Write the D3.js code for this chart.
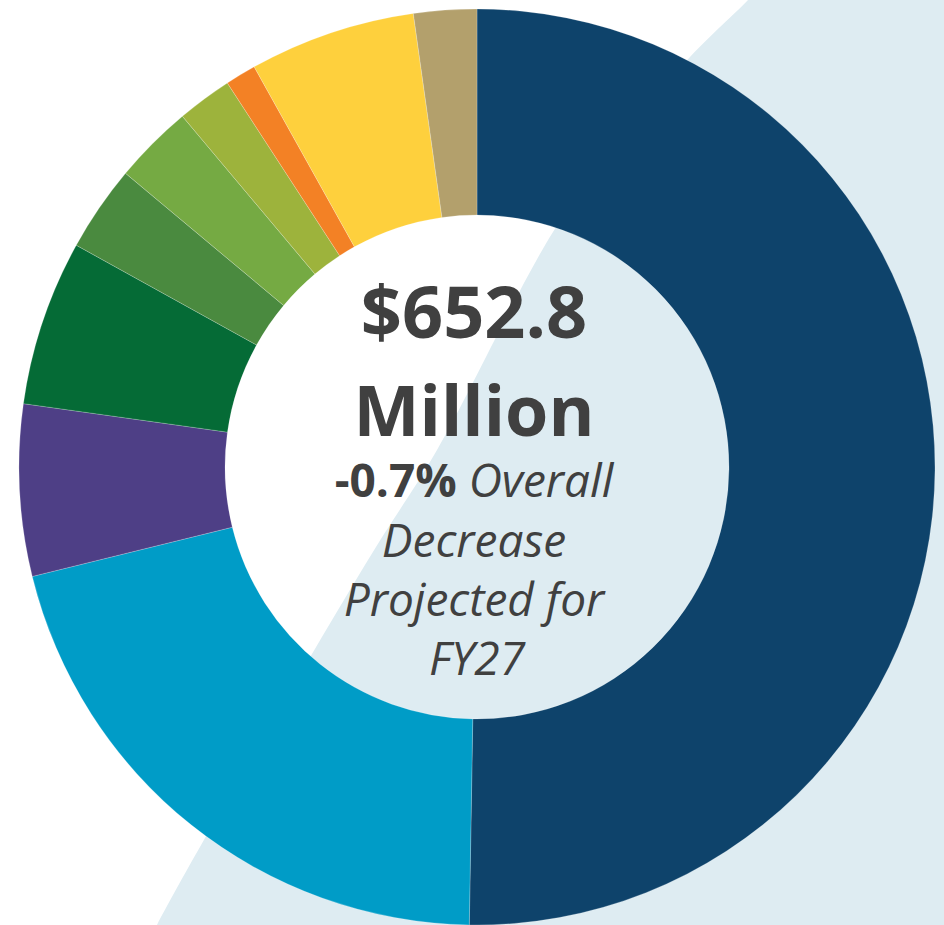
<!DOCTYPE html>
<html>
<head>
<meta charset="utf-8">
<script src="https://cdn.jsdelivr.net/npm/d3@7"></script>
<style>
  html, body { margin: 0; padding: 0; background: #ffffff; }
  svg { display: block; }
</style>
</head>
<body>
<div id="chart"></div>
<script>
// ---- Data ($ millions, clockwise from 12 o'clock) ----
const categories = [
  "Segment 1", "Segment 2", "Segment 3", "Segment 4", "Segment 5",
  "Segment 6", "Segment 7", "Segment 8", "Segment 9", "Segment 10"
];
const values = [328.2, 136.4, 39.5, 38.1, 19.8, 18.3, 12.7, 7.1, 38.3, 14.5];
const colors = [
  "#0e436b", "#009cc7", "#4e3f86", "#056b36", "#4a8a3f",
  "#75aa43", "#9db33c", "#f38125", "#fed03d", "#b3a06c"
];
const totalLabel = "$652.8";
const unitLabel = "Million";
const changeLabel = "-0.7%";
const noteLines = ["Overall", "Decrease", "Projected for", "FY27"];

// background decorative diagonal band (boundary points)
const bandEdge = [[760, -14], [748, 0], [690, 57], [620, 140], [553, 232], [437, 450], [368, 560], [205, 838], [157, 925], [150, 940]];

const W = 944, H = 925;
const cx = 477, cy = 467, outerR = 458, innerR = 252;

const svg = d3.select("#chart").append("svg")
  .attr("width", W).attr("height", H)
  .attr("viewBox", `0 0 ${W} ${H}`);

svg.append("rect").attr("width", W).attr("height", H).attr("fill", "#ffffff");

// light blue background shape
const edgeLine = d3.line().curve(d3.curveCatmullRom.alpha(0.5));
const bandPath = edgeLine(bandEdge) + ` L ${W + 20} 940 L ${W + 20} -14 Z`;
svg.append("path").attr("d", bandPath).attr("fill", "#deecf2");

const data = categories.map((c, i) => ({ name: c, value: values[i], color: colors[i] }));

const pie = d3.pie().value(d => d.value).sort(null)
  .startAngle(0).endAngle(2 * Math.PI);
const arc = d3.arc().innerRadius(innerR).outerRadius(outerR);

const g = svg.append("g").attr("transform", `translate(${cx},${cy})`);
g.selectAll("path.slice")
  .data(pie(data))
  .join("path")
  .attr("class", "slice")
  .attr("d", arc)
  .attr("fill", d => d.data.color)
  .attr("stroke", "rgba(255,255,255,0.35)")
  .attr("stroke-width", 0.6);

// Centre text
const tx = 474;
const textColor = "#404040";
const font = "'Open Sans', 'Noto Sans', sans-serif";

svg.append("text")
  .attr("x", tx).attr("y", 338)
  .attr("text-anchor", "middle")
  .attr("font-family", font).attr("font-weight", 700)
  .attr("font-size", 72).attr("fill", textColor)
  .text(totalLabel);

svg.append("text")
  .attr("x", tx).attr("y", 436)
  .attr("text-anchor", "middle")
  .attr("font-family", font).attr("font-weight", 700)
  .attr("font-size", 70).attr("fill", textColor)
  .text(unitLabel);

const l3 = svg.append("text")
  .attr("x", tx).attr("y", 497)
  .attr("text-anchor", "middle")
  .attr("font-family", font).attr("font-size", 46).attr("fill", textColor);
l3.append("tspan").attr("font-weight", 700).text(changeLabel + " ");
l3.append("tspan").attr("font-style", "italic").text(noteLines[0]);

const ys = [557, 616, 675];
noteLines.slice(1).forEach((t, i) => {
  svg.append("text")
    .attr("x", tx + (i === 2 ? 3 : 0)).attr("y", ys[i])
    .attr("text-anchor", "middle")
    .attr("font-family", font).attr("font-style", "italic")
    .attr("font-size", 46).attr("fill", textColor)
    .text(t);
});
</script>
</body>
</html>
